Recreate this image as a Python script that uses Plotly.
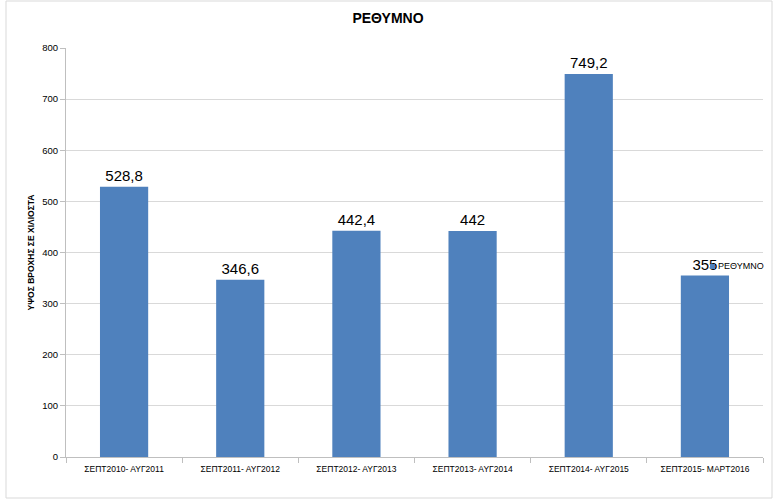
import plotly.graph_objects as go

categories = ["ΣΕΠΤ2010- ΑΥΓ2011", "ΣΕΠΤ2011- ΑΥΓ2012", "ΣΕΠΤ2012- ΑΥΓ2013",
              "ΣΕΠΤ2013- ΑΥΓ2014", "ΣΕΠΤ2014- ΑΥΓ2015", "ΣΕΠΤ2015- ΜΑΡΤ2016"]
values = [528.8, 346.6, 442.4, 442, 749.2, 355]
series_name = "ΡΕΘΥΜΝΟ"
title = "ΡΕΘΥΜΝΟ"
y_title = "ΥΨΟΣ ΒΡΟΧΗΣ ΣΕ ΧΙΛΙΟΣΤΑ"
y_ticks = [0, 100, 200, 300, 400, 500, 600, 700, 800]

labels = [("%g" % v).replace(".", ",") for v in values]

FONT = "Liberation Sans, Arial, sans-serif"
W, H = 777, 500
ml, mr, mt, mb = 66, 14, 48, 43
pw, ph = W - ml - mr, H - mt - mb
BAR = "#4F81BD"

fig = go.Figure()
fig.add_trace(go.Bar(
    x=categories, y=values, name=series_name,
    marker=dict(color=BAR, line=dict(width=0)),
    text=labels, textposition="outside", cliponaxis=False,
    textfont=dict(family=FONT, size=15, color="#000000"),
    showlegend=False, hoverinfo="skip",
))

fig.update_layout(
    width=W, height=H,
    margin=dict(l=ml, r=mr, t=mt, b=mb, autoexpand=False),
    paper_bgcolor="white", plot_bgcolor="white",
    bargap=0.585,
    font=dict(family=FONT, color="#000000"),
    title=dict(text="<b>" + title + "</b>", x=388 / W, xanchor="center",
               y=1 - 18 / H, yanchor="middle",
               font=dict(family=FONT, size=14, color="#000000")),
    showlegend=False,
    xaxis=dict(showline=True, linecolor="#BFBFBF", linewidth=1, automargin=False,
               ticks="outside", tickson="boundaries", ticklen=5, tickcolor="#BFBFBF",
               tickangle=0, ticklabelstandoff=4,
               tickfont=dict(family=FONT, size=8.5, color="#000000"),
               showgrid=False),
    yaxis=dict(range=[0, 800], tickvals=y_ticks, showline=True, linecolor="#BFBFBF",
               linewidth=1, ticks="outside", ticklen=5, tickcolor="#BFBFBF",
               gridcolor="#D9D9D9", gridwidth=1, zeroline=False, automargin=False,
               tickfont=dict(family=FONT, size=9.5, color="#000000"),
               title=dict(text="<b>" + y_title + "</b>", standoff=6,
                          font=dict(family=FONT, size=8.5, color="#000000"))),
)

# legend (drawn manually to match the tight Excel-style legend)
fig.add_shape(type="rect", xref="paper", yref="paper",
              x0=(710 - ml) / pw, x1=(715 - ml) / pw,
              y0=(457 - 269) / ph, y1=(457 - 264) / ph,
              line=dict(width=0), fillcolor=BAR)
fig.add_annotation(xref="paper", yref="paper", x=(716 - ml) / pw, y=(457 - 266) / ph,
                   text=series_name, showarrow=False, xanchor="left", yanchor="middle",
                   font=dict(family=FONT, size=9, color="#000000"))

# outer chart border
fig.add_shape(type="rect", xref="paper", yref="paper",
              x0=(6 - ml) / pw, x1=(772 - ml) / pw,
              y0=(457 - 498) / ph, y1=(457 - 1) / ph,
              line=dict(color="#D9D9D9", width=1), fillcolor="rgba(0,0,0,0)", layer="below")

fig.write_html("out.html", config={"displayModeBar": False},
               post_script="document.body.style.margin='0';document.body.style.overflow='hidden';")
